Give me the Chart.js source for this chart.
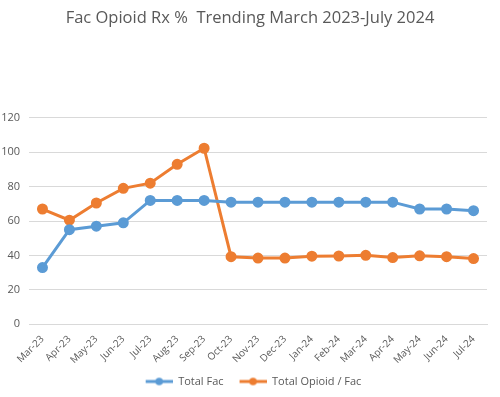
<!DOCTYPE html>
<html><head><meta charset="utf-8">
<script src="https://cdn.jsdelivr.net/npm/chart.js@4"></script>
<style>html,body{margin:0;padding:0;background:#fff}#wrap{width:500px;height:397px}</style>
</head><body><div id="wrap"><canvas id="c"></canvas></div>
<script>
const categories = ["Mar-23","Apr-23","May-23","Jun-23","Jul-23","Aug-23","Sep-23","Oct-23","Nov-23","Dec-23","Jan-24","Feb-24","Mar-24","Apr-24","May-24","Jun-24","Jul-24"];
const totalFac = [33,55,57,59,72,72,72,71,71,71,71,71,71,71,67,67,66];
const totalOpioidPerFac = [67,60.5,70.5,79,82,93,102.3,39.3,38.5,38.5,39.6,39.7,40.1,38.8,39.8,39.3,38.2];
const yTicks = [0,20,40,60,80,100,120];
const seriesNames = ["Total Fac","Total Opioid / Fac"];
const colors = ["#5B9BD5","#ED7D31"];

function legendImg(color){
  const cv=document.createElement('canvas');cv.width=34;cv.height=10;
  const g=cv.getContext('2d');
  g.strokeStyle=color;g.lineWidth=3;g.beginPath();g.moveTo(7,5);g.lineTo(34,5);g.stroke();
  g.fillStyle=color;g.beginPath();g.arc(20.5,5,3.8,0,Math.PI*2);g.fill();
  return cv;
}
const imgs = colors.map(legendImg);

new Chart(document.getElementById('c'),{
  type:'line',
  data:{labels:categories,datasets:[
    {label:seriesNames[0],data:totalFac,borderColor:colors[0],backgroundColor:colors[0],borderWidth:3,pointRadius:4,pointHoverRadius:4,tension:0},
    {label:seriesNames[1],data:totalOpioidPerFac,borderColor:colors[1],backgroundColor:colors[1],borderWidth:3,pointRadius:4,pointHoverRadius:4,tension:0}
  ]},
  options:{
    responsive:true,maintainAspectRatio:false,animation:false,
    layout:{padding:{left:0,right:0,top:6,bottom:0}},
    plugins:{
      title:{display:true,text:"Fac Opioid Rx %  Trending March 2023-July 2024",color:"#595959",font:{family:"'Open Sans', sans-serif",size:16.5,weight:'normal'},padding:{top:2,bottom:90}},
      legend:{position:'bottom',labels:{color:"#595959",font:{family:"'Open Sans', sans-serif",size:11},usePointStyle:true,pointStyleWidth:34,boxWidth:34,boxHeight:10,padding:9,
        generateLabels:(chart)=>chart.data.datasets.map((d,i)=>({text:d.label,fillStyle:colors[i],strokeStyle:colors[i],lineWidth:0,pointStyle:imgs[i],datasetIndex:i,hidden:false,fontColor:"#595959"}))}},
      tooltip:{enabled:false}
    },
    scales:{
      x:{offset:true,grid:{display:false},border:{color:"#d9d9d9"},ticks:{color:"#595959",font:{family:"'Open Sans', sans-serif",size:10},maxRotation:45,minRotation:45,autoSkip:false,padding:1}},
      y:{min:0,max:120,afterBuildTicks:(s)=>{s.ticks=yTicks.map(v=>({value:v}));},afterFit:(s)=>{s.width=29;},grid:{color:"#d9d9d9",drawTicks:false},border:{display:false},ticks:{color:"#595959",font:{family:"'Open Sans', sans-serif",size:11},padding:9}},
      y2:{position:'right',display:true,afterFit:(s)=>{s.width=13;},grid:{display:false},border:{display:false},ticks:{display:false}}
    }
  }
});
</script></body></html>
